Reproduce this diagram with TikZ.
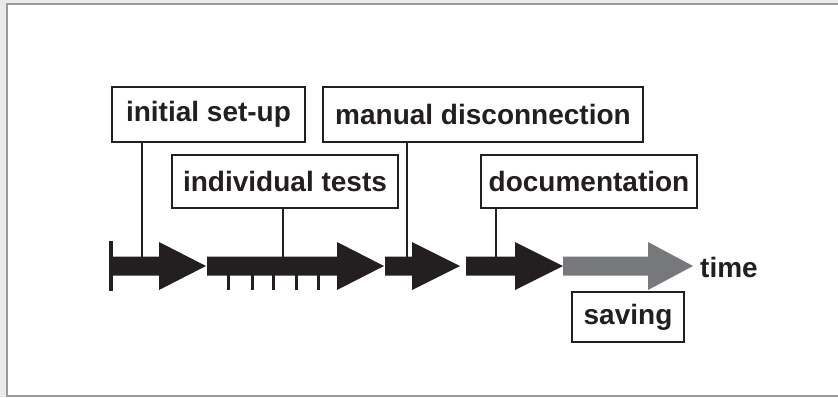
\documentclass[tikz,border=0pt]{standalone}
\usepackage{fontspec}
\setmainfont{Liberation Sans}
\definecolor{ink}{HTML}{231F20}
\definecolor{soft}{HTML}{77787B}
\definecolor{frameline}{HTML}{9A9A9A}
\definecolor{outside}{HTML}{EAEAE8}
% filled block arrow on the time axis: start x, head base x, tip x, colour
\newcommand{\fatarrow}[4]{%
  \fill[#4] (#1,256.5) -- (#2,256.5) -- (#2,242) -- (#3,266) -- (#2,290)
    -- (#2,275.5) -- (#1,275.5) -- cycle;}
\begin{document}
\begin{tikzpicture}[x=1pt,y=-1pt,
  label box/.style={draw=ink, line width=2.6pt, fill=white, text=ink,
    font=\fontsize{28}{30}\selectfont\bfseries, inner sep=0pt, anchor=center},
  link/.style={draw=ink, line width=2.3pt}]
  \useasboundingbox (0,0) rectangle (838,397);
  % page frame
  \fill[outside] (0,0) rectangle (838,397);
  \fill[white] (7,4) rectangle (838,396);
  \draw[frameline, line width=2.5pt] (838,4) -- (7,4) -- (7,396) -- (838,396);

  % text boxes
  \node[label box, minimum width=193pt, minimum height=55pt] (setup) at (208.5,114.5) {initial set-up};
  \node[label box, minimum width=226pt, minimum height=53pt] (tests) at (285,181.5) {individual tests};
  \node[label box, minimum width=320pt, minimum height=55pt] (manual) at (483,114.5) {manual disconnection};
  \node[label box, minimum width=216pt, minimum height=53pt] (docu) at (589,181.5) {documentation};
  \node[label box, minimum width=112pt, minimum height=50pt] (saving) at (628,317) {saving};
  \node[text=ink, font=\fontsize{28}{30}\selectfont\bfseries, anchor=west, inner sep=0pt] (time) at (700,267) {time};

  % points where the boxes meet the axis
  \coordinate (p1) at (142,257);
  \coordinate (p2) at (283,257);
  \coordinate (p3) at (407,257);
  \coordinate (p4) at (496,257);
  \draw[link] (setup.south -| p1) -- (p1);
  \draw[link] (tests.south -| p2) -- (p2);
  \draw[link] (manual.south -| p3) -- (p3);
  \draw[link] (docu.south -| p4) -- (p4);

  % time axis
  \fill[ink] (109,241) rectangle (113,291);
  \fatarrow{112}{159}{206}{ink}
  \fatarrow{207}{337}{384}{ink}
  \fatarrow{385}{412}{460}{ink}
  \fatarrow{466}{515}{563}{ink}
  \fatarrow{563}{648}{693}{soft}
  \foreach \tx in {228,252,273,296,318}
    \fill[ink] (\tx-1.5,275) rectangle (\tx+1.5,290);
\end{tikzpicture}
\end{document}
